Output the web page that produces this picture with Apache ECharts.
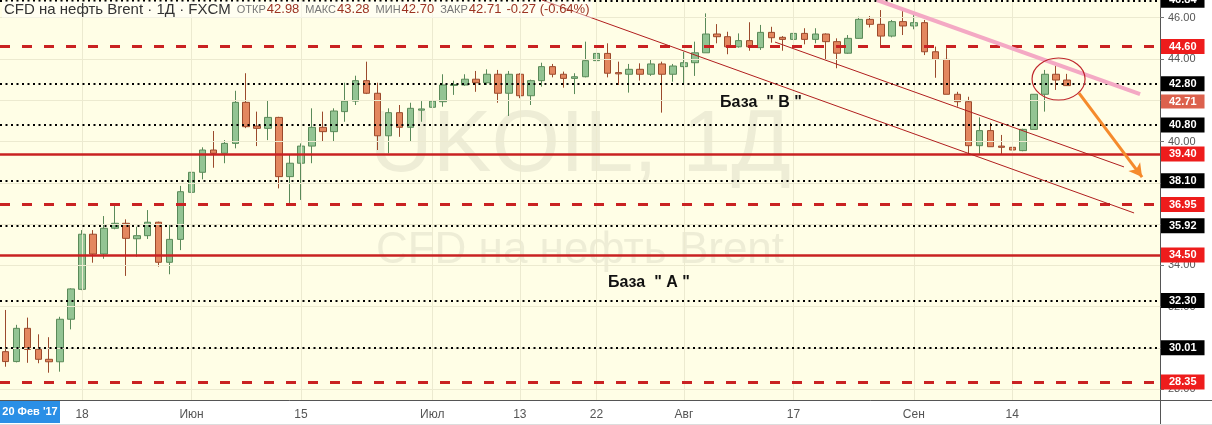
<!DOCTYPE html>
<html>
<head>
<meta charset="utf-8">
<script src="https://cdn.jsdelivr.net/npm/echarts@6/dist/echarts.min.js"></script>
<style>
html, body { margin: 0; padding: 0; background: #fff; }
#main { width: 1212px; height: 425px; }
</style>
</head>
<body>
<div id="main"></div>
<script>
// свечи UKOIL 1Д
var opens = [29.82, 29.34, 30.95, 29.93, 29.45, 29.33, 31.39, 32.84, 35.51, 34.55,
    35.80, 36.04, 35.29, 35.44, 36.09, 34.15, 35.26, 37.54, 38.51, 39.59,
    39.43, 39.91, 41.90, 40.75, 40.64, 41.17, 38.30, 38.95, 39.78, 40.69,
    40.48, 41.45, 41.96, 42.95, 42.34, 40.28, 41.40, 40.69, 41.52, 41.66,
    41.93, 42.72, 42.74, 43.02, 42.85, 43.26, 42.34, 43.26, 42.22, 42.95,
    43.63, 43.26, 43.06, 43.14, 43.92, 44.27, 43.34, 43.26, 43.50, 43.26,
    43.76, 43.26, 43.63, 43.82, 44.30, 45.21, 45.08, 44.59, 44.89, 44.55,
    45.29, 45.05, 44.95, 45.24, 44.95, 45.21, 44.84, 44.28, 45.00, 45.92,
    45.68, 45.11, 45.81, 45.60, 45.76, 44.35, 43.98, 42.29, 41.93, 39.80,
    40.53, 39.78, 39.72, 39.56, 40.59, 42.29, 43.26, 42.98];
var closes = [29.34, 30.95, 29.93, 29.45, 29.33, 31.39, 32.86, 35.51, 34.55, 35.80,
    36.04, 35.31, 35.44, 36.09, 34.15, 35.26, 37.57, 38.51, 39.59, 39.43,
    39.91, 41.90, 40.72, 40.64, 41.17, 38.30, 38.95, 39.78, 40.69, 40.48,
    41.48, 41.96, 42.95, 42.34, 40.28, 41.40, 40.69, 41.61, 41.58, 41.96,
    42.74, 42.76, 43.02, 42.85, 43.26, 42.34, 43.26, 42.22, 42.95, 43.63,
    43.26, 43.06, 43.14, 43.92, 44.27, 43.31, 43.28, 43.50, 43.26, 43.76,
    43.26, 43.66, 43.82, 44.30, 45.21, 45.08, 44.59, 44.89, 44.59, 45.29,
    45.03, 44.95, 45.24, 44.95, 45.21, 44.84, 44.28, 45.00, 45.92, 45.68,
    45.11, 45.81, 45.60, 45.76, 44.35, 43.98, 42.29, 41.93, 39.80, 40.53,
    39.75, 39.72, 39.59, 40.59, 42.29, 43.26, 42.98, 42.71];
var lows = [29.09, 29.30, 29.28, 29.26, 28.80, 28.85, 30.90, 32.80, 34.13, 34.32,
    35.75, 33.49, 34.42, 35.28, 33.94, 33.57, 34.74, 37.17, 38.17, 38.73,
    38.95, 39.67, 40.65, 39.78, 40.07, 37.73, 37.01, 37.17, 38.95, 39.99,
    39.99, 40.96, 41.77, 42.30, 39.59, 39.43, 40.23, 39.99, 40.96, 40.96,
    41.69, 42.26, 42.70, 42.41, 42.74, 41.88, 41.24, 42.10, 41.77, 42.66,
    43.11, 42.61, 42.30, 43.11, 43.63, 43.11, 42.74, 42.37, 42.95, 43.18,
    41.40, 42.90, 42.82, 43.18, 44.30, 44.76, 44.23, 44.55, 44.40, 44.44,
    44.79, 44.40, 44.89, 44.71, 44.76, 43.95, 43.55, 44.25, 44.98, 45.53,
    44.60, 45.05, 45.16, 45.44, 44.19, 43.09, 42.29, 41.69, 39.35, 39.35,
    39.75, 39.35, 39.27, 39.53, 40.59, 41.45, 42.50, 42.70];
var highs = [31.84, 31.12, 31.47, 30.66, 30.52, 31.51, 32.89, 35.71, 35.71, 36.39,
    36.97, 36.23, 35.87, 36.68, 36.12, 35.96, 37.85, 38.67, 39.72, 40.51,
    40.07, 42.46, 43.31, 41.45, 41.98, 41.20, 39.38, 39.91, 41.61, 41.45,
    41.61, 42.85, 43.19, 43.87, 42.85, 41.61, 41.77, 41.88, 41.96, 42.61,
    43.26, 42.95, 43.26, 43.42, 43.50, 43.47, 43.42, 43.31, 43.00, 43.82,
    43.76, 43.39, 43.31, 44.84, 44.43, 44.76, 43.87, 43.76, 43.79, 43.98,
    43.87, 43.76, 44.35, 44.84, 46.21, 45.69, 45.32, 45.24, 45.78, 45.65,
    45.56, 45.11, 45.44, 45.49, 45.49, 45.24, 45.00, 45.16, 46.05, 46.08,
    46.37, 45.89, 46.37, 46.13, 45.89, 44.60, 44.52, 42.41, 42.17, 41.17,
    40.91, 40.32, 40.07, 40.62, 42.29, 43.47, 43.66, 43.28];

var slotCount = 106; // 98 свечей + пустое место справа
var tickIndex = [7, 17, 27, 39, 47, 54, 62, 72, 83, 92];
var tickText = ['18', 'Июн', '15', 'Июл', '13', '22', 'Авг', '17', 'Сен', '14'];
var priceTicks = [28, 30, 32, 34, 36, 38, 40, 42, 44, 46];

// уровни
var dottedLevels = [46.84, 42.80, 40.80, 38.10, 35.92, 32.30, 30.01];
var dashedLevels = [44.60, 36.95, 28.35];
var solidLevels = [39.40, 34.50];
var lastPrice = 42.71;

// трендовые линии [индекс, цена, индекс, цена]
var channelLow = [49.03, 46.858, 103.13, 36.54];
var channelHigh = [70.32, 44.82, 102.21, 38.77];
var pinkLine = [79.64, 46.858, 103.68, 42.30];
var arrowLine = [98.10, 42.35, 103.86, 38.28];
var circleAt = [96.23, 43.03];
var baseB = [65.3, 41.87];
var baseA = [55.06, 33.15];

var yMin = 27.478, yMax = 46.858;

var cats = [];
for (var i = 0; i < slotCount; i++) cats.push(String(i));

var candles = opens.map(function (o, i) {
    return [o, closes[i], lows[i], highs[i]];
});

function isTick(index) {
    return tickIndex.indexOf(index) >= 0;
}

function level(v, lineStyle, box) {
    return {
        yAxis: v,
        lineStyle: lineStyle,
        label: {
            show: true,
            position: 'end',
            distance: 1,
            formatter: v.toFixed(2),
            backgroundColor: box,
            color: '#fff',
            fontSize: 11,
            fontWeight: 'bold',
            lineHeight: 12,
            padding: [2, 8, 1, 8]
        }
    };
}

var levelLines = [];
dottedLevels.forEach(function (v) {
    levelLines.push(level(v, {type: [2, 3.5], width: 2, color: '#000'}, '#000'));
});
dashedLevels.forEach(function (v) {
    levelLines.push(level(v, {type: [10, 12], width: 3, color: '#c92222'}, '#ee1c1c'));
});
solidLevels.forEach(function (v) {
    levelLines.push(level(v, {type: 'solid', width: 2.5, color: '#c92222'}, '#ee1c1c'));
});

// сетка: горизонтали по ценам, вертикали по датам
var gridLines = priceTicks.map(function (v) { return {yAxis: v}; })
    .concat(tickIndex.map(function (k) { return {xAxis: k}; }));

function seg(l, style, endSymbol) {
    return [
        {coord: [l[0], l[1]], lineStyle: style, symbol: 'none'},
        {coord: [l[2], l[3]], symbol: endSymbol || 'none', symbolSize: [11, 13]}
    ];
}

var chart = echarts.init(document.getElementById('main'));
chart.setOption({
    animation: false,
    textStyle: {fontFamily: 'Liberation Sans'},
    grid: {left: 0, right: 52, top: 0, bottom: 25, show: true, backgroundColor: '#fffee6', borderWidth: 0},
    xAxis: [{
        type: 'category',
        data: cats,
        boundaryGap: true,
        axisLine: {onZero: false, lineStyle: {color: '#555'}},
        axisTick: {alignWithLabel: true, interval: isTick, length: 4, lineStyle: {color: '#555'}},
        axisLabel: {
            interval: isTick,
            color: '#555',
            fontSize: 12,
            margin: 9,
            formatter: function (val, idx) {
                var k = tickIndex.indexOf(idx);
                return k >= 0 ? tickText[k] : '';
            }
        },
        splitLine: {show: false}
    }, {
        type: 'value',
        min: -0.5,
        max: slotCount - 0.5,
        show: false
    }],
    yAxis: {
        type: 'value',
        position: 'right',
        min: yMin,
        max: yMax,
        axisLine: {show: true, onZero: false, lineStyle: {color: '#555'}},
        axisTick: {show: true, customValues: priceTicks, length: 4, lineStyle: {color: '#777'}},
        axisLabel: {
            customValues: priceTicks,
            color: '#555',
            fontSize: 11,
            margin: 8,
            formatter: function (v) { return v.toFixed(2); }
        },
        splitLine: {show: false}
    },
    series: [
        {
            // сетка
            type: 'line',
            xAxisIndex: 1,
            data: [],
            z: 1,
            markLine: {
                silent: true,
                symbol: ['none', 'none'],
                label: {show: false},
                lineStyle: {color: '#ecead0', width: 1, type: 'solid'},
                data: gridLines
            }
        },
        {
            type: 'candlestick',
            data: candles,
            barWidth: 7,
            z: 3,
            itemStyle: {
                color: '#93c493',
                color0: '#e3875f',
                borderColor: '#5a8a59',
                borderColor0: '#9b4a2c',
                borderWidth: 1
            },
            markLine: {
                silent: true,
                symbol: ['none', 'none'],
                data: levelLines
            }
        },
        {
            // трендовые линии и стрелка
            type: 'line',
            xAxisIndex: 1,
            data: [],
            z: 4,
            markLine: {
                silent: true,
                symbol: ['none', 'none'],
                label: {show: false},
                data: [
                    seg(channelLow, {color: '#b01e1e', width: 1, type: 'solid'}),
                    seg(channelHigh, {color: '#b01e1e', width: 1, type: 'solid'}),
                    seg(pinkLine, {color: '#f4a9c4', width: 4, type: 'solid'}),
                    seg(arrowLine, {color: '#f58a2c', width: 3, type: 'solid'}, 'arrow')
                ]
            }
        }
    ]
});

// подписи и разметка поверх
var finder = {xAxisIndex: 1, yAxisIndex: 0};
var c = chart.convertToPixel(finder, circleAt);
var pb = chart.convertToPixel(finder, baseB);
var pa = chart.convertToPixel(finder, baseA);
var pl = chart.convertToPixel(finder, [0, lastPrice]);
var mid = chart.convertToPixel(finder, [(slotCount - 1) / 2, yMin]);

chart.setOption({
    graphic: [
        {
            type: 'text', z: 1, silent: true,
            style: {x: mid[0], y: 147, text: 'UKOIL, 1Д', fill: '#eeedd6',
                font: '88px "Liberation Sans"', textAlign: 'center', textVerticalAlign: 'middle'}
        },
        {
            type: 'text', z: 1, silent: true,
            style: {x: mid[0], y: 251, text: 'CFD на нефть Brent', fill: '#eeedd6',
                font: '44px "Liberation Sans"', textAlign: 'center', textVerticalAlign: 'middle'}
        },
        {
            type: 'ellipse', z: 10, silent: true,
            shape: {cx: c[0], cy: c[1], rx: 26.5, ry: 21},
            style: {fill: 'none', stroke: '#c0282d', lineWidth: 1.2}
        },
        {
            type: 'text', z: 10, silent: true,
            style: {x: pb[0], y: pb[1], text: 'База  " В "', fill: '#111',
                font: 'bold 16px "Liberation Sans"', textVerticalAlign: 'middle'}
        },
        {
            type: 'text', z: 10, silent: true,
            style: {x: pa[0], y: pa[1], text: 'База  " А "', fill: '#111',
                font: 'bold 16px "Liberation Sans"', textVerticalAlign: 'middle'}
        },
        {
            // последняя цена, сдвинута под 42.80
            type: 'text', z: 20, silent: true,
            style: {x: 1161, y: pl[1] + 16, text: lastPrice.toFixed(2), fill: '#fff',
                font: 'bold 11px "Liberation Sans"', textVerticalAlign: 'middle',
                backgroundColor: '#dc614d', padding: [2, 8, 1, 8]}
        },
        {
            type: 'text', z: 20, silent: true,
            style: {
                x: 2, y: 1,
                text: '{t|CFD на нефть Brent · 1Д · FXCM}{l|ОТКР}{v|42.98}{l|МАКС}{v|43.28}{l|МИН}{v|42.70}{l|ЗАКР}{v|42.71}{c|-0.27 (-0.64%)}',
                backgroundColor: 'rgba(255,255,255,0.45)',
                padding: [1, 3, 1, 2],
                rich: {
                    t: {fontSize: 15, fill: '#333', fontFamily: 'Liberation Sans'},
                    l: {fontSize: 11, fill: '#777', fontFamily: 'Liberation Sans', padding: [0, 1, 0, 6]},
                    v: {fontSize: 13, fill: '#9b3322', fontFamily: 'Liberation Sans'},
                    c: {fontSize: 13, fill: '#9b3322', fontFamily: 'Liberation Sans', padding: [0, 0, 0, 5]}
                }
            }
        },
        {
            type: 'line', z: 5, silent: true,
            shape: {x1: 1160.5, y1: 400, x2: 1160.5, y2: 425},
            style: {stroke: '#555', lineWidth: 1}
        },
        {
            type: 'line', z: 5, silent: true,
            shape: {x1: 1160, y1: 400.5, x2: 1212, y2: 400.5},
            style: {stroke: '#555', lineWidth: 1}
        },
        {
            type: 'line', z: 5, silent: true,
            shape: {x1: 0, y1: 424.5, x2: 1212, y2: 424.5},
            style: {stroke: '#ddd', lineWidth: 1}
        },
        {
            type: 'rect', z: 20, silent: true,
            shape: {x: 0, y: 401, width: 60, height: 22},
            style: {fill: '#2a8fe6'}
        },
        {
            type: 'text', z: 21, silent: true,
            style: {x: 30, y: 412, text: "20 Фев '17", fill: '#fff',
                font: 'bold 11px "Liberation Sans"', textAlign: 'center', textVerticalAlign: 'middle'}
        }
    ]
});
</script>
</body>
</html>
